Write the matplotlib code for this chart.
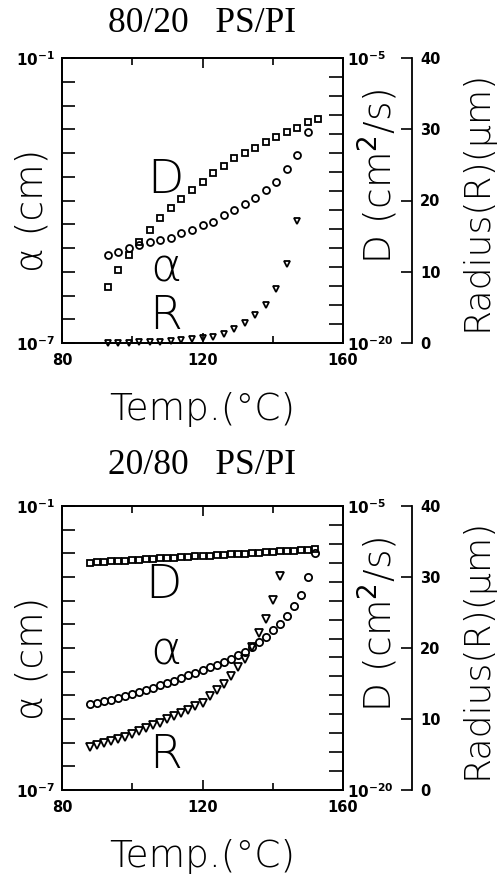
import numpy as np
import matplotlib
matplotlib.use('Agg')
import matplotlib.pyplot as plt
from matplotlib.ticker import NullLocator, FixedLocator

# ---- 80/20 PS/PI ----
top_T_D = [93, 96, 99, 102, 105, 108, 111, 114, 117, 120, 123, 126, 129, 132,
           135, 138, 141, 144, 147, 150, 153]
top_logD = [-17.04, -16.16, -15.37, -14.67, -14.05, -13.44, -12.91, -12.42, -11.95,
            -11.51, -11.07, -10.68, -10.28, -10.02, -9.72, -9.41, -9.14, -8.88,
            -8.67, -8.38, -8.21]
top_T_a = [93, 96, 99, 102, 105, 108, 111, 114, 117, 120, 123, 126, 129, 132,
           135, 138, 141, 144, 147, 150]
top_loga = [-5.15, -5.08, -5.01, -4.94, -4.88, -4.83, -4.78, -4.69, -4.62, -4.52,
            -4.45, -4.31, -4.20, -4.08, -3.95, -3.78, -3.60, -3.34, -3.04, -2.55]
top_T_R = [93, 96, 99, 102, 105, 108, 111, 114, 117, 120, 123, 126, 129, 132,
           135, 138, 141, 144, 147]
top_R = [0.0, 0.0, 0.05, 0.1, 0.15, 0.2, 0.3, 0.4, 0.5, 0.7, 0.9, 1.3, 1.9, 2.75,
         3.9, 5.4, 7.6, 11.1, 17.1]

# ---- 20/80 PS/PI ----
bot_T = [88, 90, 92, 94, 96, 98, 100, 102, 104, 106, 108, 110, 112, 114, 116, 118,
         120, 122, 124, 126, 128, 130, 132, 134, 136, 138, 140, 142, 144, 146, 148,
         150, 152]
bot_logD = [-7.99, -7.97, -7.95, -7.92, -7.90, -7.88, -7.86, -7.84, -7.82, -7.79,
            -7.77, -7.75, -7.73, -7.71, -7.69, -7.66, -7.64, -7.62, -7.60, -7.58,
            -7.55, -7.53, -7.51, -7.49, -7.47, -7.45, -7.42, -7.40, -7.38, -7.36,
            -7.34, -7.32, -7.29]
bot_loga = [-5.19, -5.16, -5.13, -5.10, -5.06, -5.01, -4.97, -4.93, -4.89, -4.85,
            -4.79, -4.74, -4.69, -4.63, -4.58, -4.53, -4.46, -4.41, -4.36, -4.30,
            -4.23, -4.15, -4.08, -3.98, -3.88, -3.76, -3.63, -3.49, -3.32, -3.12,
            -2.87, -2.51, -1.99]
bot_T_R = [88, 90, 92, 94, 96, 98, 100, 102, 104, 106, 108, 110, 112, 114, 116, 118,
           120, 122, 124, 126, 128, 130, 132, 134, 136, 138, 140, 142]
bot_R = [6.1, 6.3, 6.6, 6.9, 7.2, 7.5, 7.9, 8.3, 8.7, 9.1, 9.5, 10.0, 10.4, 10.9,
         11.3, 11.8, 12.3, 13.2, 14.1, 15.0, 16.1, 17.3, 18.5, 20.2, 22.1, 24.1,
         26.8, 30.2]

W, H = 504, 877
fig = plt.figure(figsize=(W / 100, H / 100), dpi=100)

tickfont = dict(fontsize=10.5, fontweight='bold')
labfont = dict(family='DejaVu Sans', fontsize=27, fontweight='light')


def fx(px):
    return px / W


def fy(py):
    return 1 - py / H


def panel(top, bottom, title, ty, Ta, loga, TD, logD, TR, R, ms, txt_y):
    ax = fig.add_axes([fx(62), fy(bottom), fx(343) - fx(62), fy(top) - fy(bottom)])
    axD = ax.twinx()
    axR = ax.twinx()
    axR.spines['right'].set_position(('axes', 1.2456))
    for s in ['top', 'bottom', 'left']:
        axR.spines[s].set_visible(False)
    for a in (ax, axD, axR):
        for s in a.spines.values():
            s.set_linewidth(1.3)

    ax.set_xlim(80, 160)
    ax.set_yscale('log')
    ax.set_ylim(1e-7, 1e-1)
    axD.set_yscale('log')
    axD.set_ylim(1e-20, 1e-5)
    axR.set_ylim(0, 40)

    ax.set_xticks([80, 120, 160])
    ax.set_xticklabels(['80', '120', '160'], **tickfont)
    ax.xaxis.set_minor_locator(FixedLocator([100, 140]))
    ax.tick_params(axis='x', which='both', direction='in', top=True, pad=7)
    ax.tick_params(axis='x', which='major', length=7, width=1.2)
    ax.tick_params(axis='x', which='minor', length=5, width=1.2)

    yt = [10.0 ** e for e in np.arange(-7, -0.9, 0.5)]
    ax.yaxis.set_major_locator(FixedLocator(yt))
    ax.yaxis.set_minor_locator(NullLocator())
    ax.set_yticklabels([r'$\mathbf{10^{-7}}$'] + [''] * 11 + [r'$\mathbf{10^{-1}}$'],
                       fontsize=11)
    ax.tick_params(axis='y', direction='in', length=9, width=1.2, pad=5)

    dt = [10.0 ** e for e in range(-20, -4)]
    axD.yaxis.set_major_locator(FixedLocator(dt))
    axD.yaxis.set_minor_locator(NullLocator())
    axD.set_yticklabels([r'$\mathbf{10^{-20}}$'] + [''] * 14 + [r'$\mathbf{10^{-5}}$'],
                        fontsize=11)
    axD.tick_params(axis='y', direction='in', length=10, width=1.2, pad=3)

    axR.set_yticks([0, 10, 20, 30, 40])
    axR.set_yticklabels(['0', '10', '20', '30', '40'], **tickfont)
    axR.tick_params(axis='y', direction='in', length=8, width=1.2, pad=6)

    ax.plot(Ta, [10.0 ** v for v in loga], 'o', mfc='none', mec='black',
            ms=ms, mew=1.3, clip_on=False)
    axD.plot(TD, [10.0 ** v for v in logD], 's', mfc='none', mec='black',
             ms=ms - 0.8, mew=1.3, clip_on=False)
    axR.plot(TR, R, 'v', mfc='none', mec='black', ms=ms, mew=1.3, clip_on=False)

    for s, (xx, yy) in zip(['D', 'α', 'R'], txt_y):
        ax.text(xx, yy, s, transform=ax.transAxes, ha='center', va='center',
                family='DejaVu Sans', fontsize=34, fontweight='light')

    fig.text(fx(202), fy(ty), title, ha='center', va='center',
             family='Liberation Serif', fontsize=25.5)
    fig.text(fx(202), fy(bottom + 67), 'Temp.(°C)', ha='center', va='center', **labfont)
    fig.text(fx(32), fy((top + bottom) / 2 + 10), 'α (cm)', rotation=90,
             ha='center', va='center', **labfont)
    fig.text(fx(378), fy((top + bottom) / 2 - 24), 'D (cm$^2$/s)', rotation=90,
             ha='center', va='center', **labfont)
    fig.text(fx(477), fy((top + bottom) / 2), 'Radius(R)(μm)', rotation=90,
             ha='center', va='center', family='DejaVu Sans', fontsize=26,
             fontweight='light')


panel(58, 343, '80/20   PS/PI', 23, top_T_a, top_loga, top_T_D, top_logD,
      top_T_R, top_R, 5, [(0.367, 0.572), (0.37, 0.263), (0.37, 0.095)])
panel(506, 790, '20/80   PS/PI', 465, bot_T, bot_loga, bot_T, bot_logD,
      bot_T_R, bot_R, 5.2, [(0.36, 0.722), (0.37, 0.486), (0.37, 0.123)])

fig.savefig('out.png', dpi=100)
